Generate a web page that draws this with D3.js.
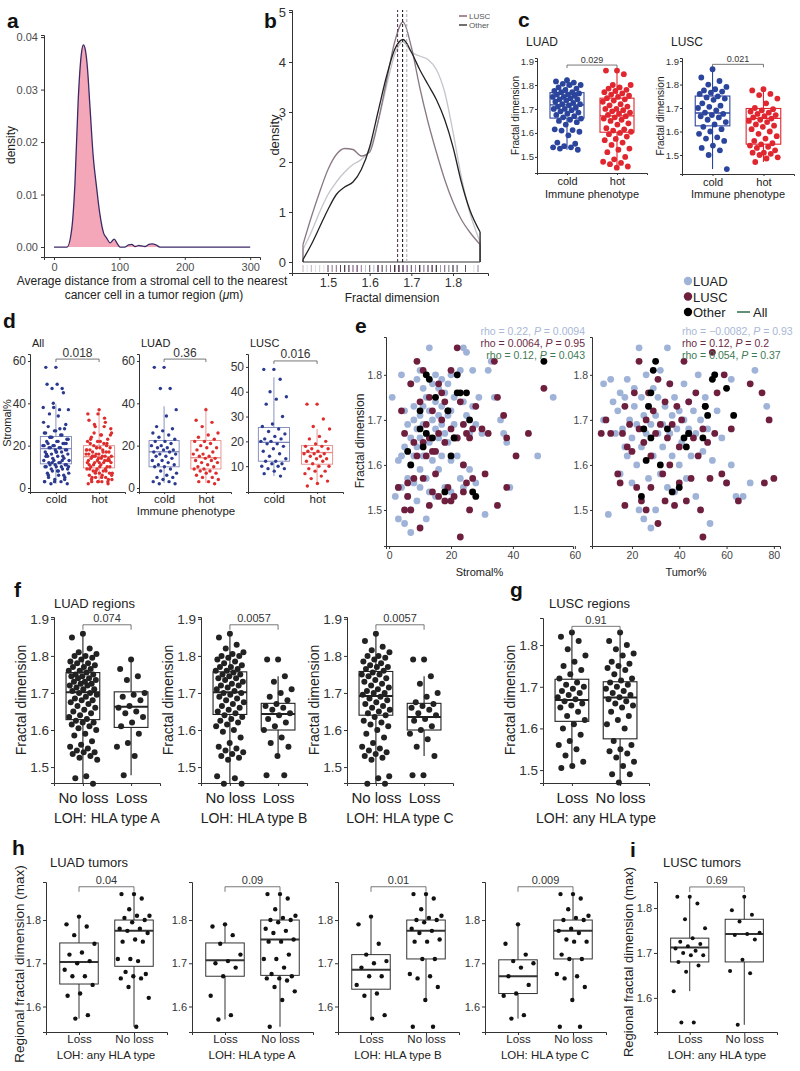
<!DOCTYPE html>
<html>
<head>
<meta charset="utf-8">
<script src="https://cdn.jsdelivr.net/npm/d3@7"></script>
<style>
  body { margin: 0; background: #fff; }
  text { font-family: "Liberation Sans", Arial, sans-serif; }
</style>
</head>
<body>
<svg id="fig" width="800" height="1071"></svg>
<script>
// ---------- data ----------

// a: density of stromal-to-cancer distance
const aDist = [0, 20, 27, 32, 37, 42, 45, 48, 51, 55, 60, 65, 70, 76, 80, 86, 92, 97, 101, 108, 114, 119, 124, 130, 134, 139, 145, 150, 156, 162, 170, 300];
const aDens = [0, 0, 0.0033, 0.012, 0.028, 0.037, 0.0385, 0.0375, 0.0343, 0.0267, 0.0172, 0.0115, 0.0064, 0.0026, 0.0018, 0.0008, 0.0015, 0.0006, 0, 0, 0.0004, 0.0005, 0.0001, 0.0003, 0.0002, 0.0001, 0.0005, 0.0006, 0.0004, 0, 0, 0];

// b: fractal dimension densities
const bGrid  = [1.44, 1.46, 1.48, 1.50, 1.52, 1.54, 1.56, 1.58, 1.60, 1.62, 1.64, 1.66, 1.68, 1.70, 1.72, 1.74, 1.76, 1.78, 1.80, 1.82, 1.84, 1.865];
const bLUAD  = [0.25, 0.6, 1.0, 1.35, 1.6, 1.8, 1.95, 2.05, 2.25, 2.8, 3.5, 4.15, 4.4, 4.2, 4.12, 4.05, 3.85, 3.4, 2.6, 1.7, 1.0, 0.4];
const bLUSC  = [0.35, 0.9, 1.4, 1.85, 2.15, 2.27, 2.25, 2.12, 2.2, 2.8, 3.6, 4.4, 4.8, 4.3, 3.5, 2.8, 2.2, 1.65, 1.2, 0.85, 0.6, 0.35];
const bOther = [0.05, 0.35, 0.7, 1.05, 1.35, 1.5, 1.6, 1.85, 2.3, 3.0, 3.7, 4.25, 4.45, 4.2, 3.85, 3.55, 3.25, 2.85, 2.3, 1.6, 1.05, 0.6];
const bMeans = [1.689, 1.667, 1.679]; // LUAD, LUSC, Other
const bLegend = ["LUSC", "Other"];

// c: fractal dimension by immune phenotype
const cGroups = ["cold", "hot"];
const cLuadCold = [1.82, 1.815, 1.81, 1.805, 1.80, 1.80, 1.79, 1.785, 1.78, 1.775, 1.77, 1.77, 1.765, 1.76, 1.76, 1.755, 1.75, 1.75, 1.745, 1.74, 1.74, 1.735, 1.73, 1.725, 1.72, 1.72, 1.715, 1.71, 1.705, 1.70, 1.70, 1.695, 1.69, 1.685, 1.68, 1.675, 1.67, 1.665, 1.66, 1.655, 1.65, 1.645, 1.635, 1.615, 1.612, 1.61, 1.605, 1.59, 1.56, 1.555, 1.545, 1.54, 1.54, 1.535, 1.53];
const cLuadHot = [1.86, 1.86, 1.845, 1.80, 1.80, 1.79, 1.785, 1.78, 1.775, 1.77, 1.765, 1.76, 1.755, 1.75, 1.745, 1.74, 1.735, 1.73, 1.72, 1.715, 1.71, 1.70, 1.70, 1.695, 1.69, 1.685, 1.68, 1.675, 1.67, 1.665, 1.66, 1.655, 1.65, 1.64, 1.635, 1.62, 1.615, 1.61, 1.605, 1.60, 1.595, 1.585, 1.575, 1.57, 1.56, 1.55, 1.535, 1.53, 1.52, 1.50, 1.49, 1.48, 1.475, 1.47, 1.46, 1.455];
const cLuscCold = [1.865, 1.83, 1.815, 1.80, 1.79, 1.78, 1.775, 1.77, 1.765, 1.76, 1.75, 1.745, 1.74, 1.735, 1.72, 1.71, 1.705, 1.70, 1.69, 1.68, 1.675, 1.67, 1.665, 1.66, 1.65, 1.64, 1.63, 1.62, 1.61, 1.60, 1.59, 1.575, 1.57, 1.56, 1.54, 1.53, 1.52, 1.50, 1.44];
const cLuscHot = [1.78, 1.775, 1.76, 1.755, 1.74, 1.72, 1.70, 1.695, 1.69, 1.685, 1.68, 1.675, 1.67, 1.665, 1.66, 1.655, 1.65, 1.645, 1.64, 1.63, 1.625, 1.62, 1.61, 1.60, 1.59, 1.58, 1.57, 1.56, 1.55, 1.545, 1.54, 1.535, 1.53, 1.52, 1.51, 1.51, 1.505, 1.50, 1.49, 1.485, 1.47];
// [lower whisker, Q1, median, Q3, upper whisker]
const cLuadStats = [[1.53, 1.662, 1.717, 1.768, 1.83], [1.455, 1.603, 1.671, 1.745, 1.862]];
const cLuscStats = [[1.44, 1.624, 1.679, 1.751, 1.862], [1.47, 1.546, 1.656, 1.698, 1.78]];
const cPvals = ["0.029", "0.021"];

// d: stromal% by immune phenotype
const dLuadCold = [57, 57, 47, 47, 37, 34, 29, 28, 27, 26, 25, 24, 23, 22, 22, 21, 20, 20, 19, 19, 18, 18, 17, 17, 16, 16, 15, 15, 14, 13, 13, 12, 11, 11, 10, 10, 9, 8, 7, 6, 5, 5, 4, 3, 3, 2, 2];
const dLuadHot = [37, 32, 31, 29, 26, 25, 24, 23, 22, 22, 21, 20, 19, 19, 18, 17, 16, 16, 15, 15, 14, 14, 13, 13, 12, 12, 11, 10, 10, 9, 9, 8, 8, 7, 7, 6, 5, 5, 4, 3, 3, 2];
const dLuscCold = [49, 49, 45, 40, 38, 37, 35, 30, 27, 26, 25, 24, 23, 22, 21, 21, 20, 20, 19, 19, 18, 17, 16, 15, 14, 13, 12, 12, 11, 11, 10, 10, 9, 9, 8, 7, 6];
const dLuscHot = [35, 35, 29, 26, 25, 22, 21, 20, 19, 18, 18, 17, 17, 16, 16, 15, 15, 15, 14, 14, 13, 13, 12, 12, 11, 10, 10, 9, 8, 8, 7, 6, 5, 4, 3, 2];
const dOtherCold = [38, 31, 28, 24, 21, 17, 15, 13, 12, 10, 8, 6, 4, 3, 3];
const dOtherHot = [33, 30, 28, 25, 23, 21, 19, 18, 17, 15, 13, 12, 11, 9, 7, 6, 5, 4, 3, 3];
const dAllStats  = [[2, 11.4, 18.6, 24.3, 39.5], [2.5, 9.5, 14.8, 20, 37]];
const dLuadStats = [[2.4, 10, 17.1, 22.4, 38.6], [2.4, 9, 14.3, 22.4, 38]];
const dLuscStats = [[6, 12, 19.6, 25.6, 45.8], [2.8, 10.8, 15.5, 18.3, 25]];
const dPvals = ["0.018", "0.36", "0.016"];

// e: fractal dimension vs stromal% / tumor%  ([percent, fractal dimension])
const eStromalLUAD = [[1,1.75],[2,1.53],[3,1.55],[3,1.61],[3,1.48],[4,1.80],[4,1.62],[4,1.55],[5,1.72],[5,1.47],[5,1.64],[6,1.69],[6,1.57],[6,1.53],[7,1.78],[7,1.66],[7,1.60],[7,1.50],[7,1.45],[8,1.73],[8,1.70],[8,1.62],[8,1.56],[9,1.79],[9,1.68],[9,1.64],[9,1.52],[10,1.81],[10,1.71],[10,1.66],[10,1.59],[10,1.55],[11,1.77],[11,1.73],[11,1.69],[11,1.62],[12,1.80],[12,1.75],[12,1.67],[12,1.57],[12,1.48],[13,1.86],[13,1.72],[13,1.65],[13,1.54],[14,1.78],[14,1.70],[14,1.61],[15,1.80],[15,1.74],[15,1.68],[15,1.53],[16,1.77],[16,1.71],[16,1.66],[16,1.59],[17,1.79],[17,1.73],[17,1.69],[17,1.62],[18,1.76],[18,1.67],[18,1.55],[19,1.78],[19,1.71],[19,1.65],[20,1.80],[20,1.72],[20,1.61],[20,1.54],[21,1.69],[21,1.75],[22,1.80],[22,1.66],[22,1.62],[23,1.81],[23,1.57],[24,1.86],[24,1.74],[24,1.60],[24,1.55],[25,1.85],[25,1.71],[26,1.67],[26,1.59],[27,1.81],[27,1.73],[28,1.69],[28,1.56],[29,1.75],[30,1.67],[31,1.49],[32,1.81],[33,1.83],[34,1.75],[36,1.70],[37,1.67],[38,1.65],[39,1.55],[48,1.62],[53,1.75]];
const eStromalLUSC = [[3,1.55],[4,1.72],[5,1.67],[5,1.50],[6,1.56],[6,1.53],[7,1.78],[7,1.50],[8,1.65],[8,1.57],[9,1.83],[9,1.62],[10,1.74],[10,1.46],[11,1.81],[11,1.65],[11,1.57],[12,1.69],[12,1.62],[13,1.75],[13,1.66],[13,1.51],[14,1.72],[14,1.63],[14,1.54],[15,1.63],[15,1.58],[16,1.78],[16,1.67],[16,1.53],[17,1.76],[17,1.70],[18,1.74],[18,1.65],[18,1.52],[19,1.72],[19,1.55],[20,1.81],[20,1.68],[20,1.52],[21,1.66],[21,1.53],[22,1.86],[22,1.66],[23,1.74],[23,1.44],[24,1.69],[24,1.60],[24,1.54],[25,1.67],[25,1.56],[26,1.66],[26,1.50],[27,1.68],[27,1.57],[28,1.73],[30,1.68],[31,1.58],[32,1.67],[34,1.83],[35,1.75],[35,1.51],[37,1.71],[38,1.66],[38,1.55],[41,1.62],[45,1.67],[50,1.77]];
const eStromalOther = [[6,1.63],[7,1.60],[10,1.72],[10,1.68],[11,1.64],[12,1.67],[12,1.80],[13,1.79],[14,1.66],[15,1.75],[18,1.54],[19,1.72],[20,1.62],[21,1.66],[22,1.80],[22,1.76],[23,1.76],[25,1.76],[26,1.70],[27,1.54],[28,1.53],[50,1.83]];
const eTumorLUAD = [[8,1.78],[8,1.70],[10,1.49],[11,1.79],[12,1.74],[13,1.67],[14,1.72],[15,1.58],[15,1.76],[16,1.68],[17,1.64],[17,1.75],[18,1.62],[18,1.79],[19,1.70],[20,1.56],[20,1.66],[21,1.77],[21,1.73],[22,1.60],[22,1.69],[23,1.50],[23,1.86],[24,1.75],[24,1.64],[25,1.71],[25,1.48],[26,1.67],[26,1.80],[27,1.57],[27,1.73],[28,1.46],[28,1.69],[29,1.77],[29,1.62],[30,1.71],[30,1.50],[31,1.67],[31,1.75],[32,1.81],[32,1.58],[33,1.69],[33,1.64],[34,1.73],[35,1.86],[35,1.55],[36,1.67],[36,1.78],[37,1.62],[37,1.71],[38,1.75],[38,1.54],[39,1.68],[40,1.72],[40,1.60],[41,1.65],[42,1.78],[42,1.70],[43,1.57],[44,1.74],[44,1.68],[45,1.62],[46,1.72],[47,1.67],[47,1.53],[48,1.80],[49,1.70],[50,1.63],[51,1.75],[52,1.68],[53,1.47],[54,1.61],[55,1.80],[56,1.72],[58,1.66],[60,1.56],[62,1.79],[62,1.60],[64,1.53],[67,1.53],[70,1.56],[72,1.81],[77,1.73]];
const eTumorLUSC = [[7,1.67],[9,1.70],[11,1.67],[14,1.58],[15,1.56],[16,1.67],[17,1.73],[17,1.51],[18,1.64],[19,1.69],[20,1.63],[21,1.76],[22,1.55],[23,1.83],[23,1.68],[24,1.52],[25,1.65],[26,1.70],[26,1.50],[27,1.76],[28,1.62],[28,1.55],[29,1.72],[30,1.67],[31,1.47],[31,1.79],[32,1.69],[33,1.58],[34,1.74],[34,1.52],[35,1.66],[36,1.60],[36,1.78],[37,1.69],[38,1.51],[39,1.73],[40,1.64],[40,1.56],[41,1.70],[42,1.83],[43,1.52],[44,1.67],[44,1.74],[45,1.57],[46,1.66],[47,1.76],[48,1.62],[49,1.50],[50,1.44],[50,1.68],[51,1.73],[52,1.65],[53,1.57],[54,1.85],[55,1.67],[56,1.76],[58,1.58],[59,1.80],[60,1.56],[62,1.68],[65,1.52],[70,1.78],[75,1.76],[76,1.56],[80,1.57],[78,1.70]];
const eTumorOther = [[24,1.53],[25,1.68],[26,1.61],[27,1.73],[28,1.76],[28,1.66],[29,1.81],[30,1.83],[32,1.60],[35,1.68],[37,1.54],[40,1.55],[42,1.66],[43,1.64],[44,1.67],[50,1.66],[51,1.73],[52,1.71],[54,1.79],[55,1.80],[60,1.77],[63,1.71]];
const eRhoStromal = [["rho = 0.22, ", "P", " = 0.0094"], ["rho = 0.0064, ", "P", " = 0.95"], ["rho = 0.12, ", "P", " = 0.043"]];
const eRhoTumor = [["rho = \u22120.0082, ", "P", " = 0.93"], ["rho = 0.12, ", "P", " = 0.2"], ["rho = 0.054, ", "P", " = 0.37"]];
const eLegend = ["LUAD", "LUSC", "Other"];

// f, g: regions, fractal dimension by HLA LOH
const lossGroups = ["No loss", "Loss"];
const fNoLossA = [1.86, 1.85, 1.82, 1.81, 1.805, 1.80, 1.80, 1.795, 1.79, 1.785, 1.78, 1.78, 1.775, 1.77, 1.77, 1.765, 1.76, 1.76, 1.755, 1.75, 1.75, 1.745, 1.745, 1.74, 1.74, 1.735, 1.73, 1.73, 1.725, 1.725, 1.72, 1.72, 1.715, 1.71, 1.71, 1.705, 1.70, 1.70, 1.695, 1.69, 1.685, 1.68, 1.68, 1.675, 1.67, 1.665, 1.66, 1.655, 1.65, 1.645, 1.64, 1.635, 1.63, 1.625, 1.62, 1.62, 1.615, 1.61, 1.605, 1.60, 1.59, 1.585, 1.57, 1.56, 1.555, 1.55, 1.545, 1.54, 1.54, 1.535, 1.53, 1.525, 1.52, 1.475, 1.47, 1.455];
const fLossA = [1.79, 1.765, 1.745, 1.735, 1.70, 1.695, 1.69, 1.68, 1.665, 1.66, 1.65, 1.645, 1.635, 1.62, 1.61, 1.59, 1.565, 1.555, 1.53, 1.478];
const fNoLossB = [1.86, 1.85, 1.83, 1.82, 1.81, 1.805, 1.80, 1.80, 1.795, 1.79, 1.785, 1.78, 1.775, 1.77, 1.77, 1.765, 1.76, 1.76, 1.755, 1.75, 1.75, 1.745, 1.74, 1.74, 1.735, 1.73, 1.725, 1.72, 1.72, 1.715, 1.71, 1.705, 1.70, 1.70, 1.695, 1.69, 1.685, 1.68, 1.675, 1.67, 1.665, 1.66, 1.655, 1.65, 1.645, 1.64, 1.635, 1.63, 1.625, 1.62, 1.615, 1.61, 1.60, 1.595, 1.58, 1.565, 1.555, 1.55, 1.545, 1.54, 1.535, 1.53, 1.525, 1.52, 1.475, 1.47, 1.455, 1.455];
const fLossB = [1.79, 1.79, 1.745, 1.73, 1.71, 1.70, 1.69, 1.68, 1.67, 1.665, 1.66, 1.655, 1.645, 1.64, 1.63, 1.62, 1.61, 1.60, 1.58, 1.565, 1.555, 1.53, 1.478, 1.478];
const fNoLossC = [1.86, 1.84, 1.825, 1.815, 1.81, 1.80, 1.80, 1.795, 1.79, 1.785, 1.78, 1.775, 1.77, 1.77, 1.765, 1.76, 1.755, 1.75, 1.75, 1.745, 1.74, 1.735, 1.73, 1.725, 1.72, 1.715, 1.71, 1.705, 1.70, 1.70, 1.695, 1.69, 1.685, 1.68, 1.675, 1.67, 1.665, 1.66, 1.655, 1.65, 1.645, 1.64, 1.635, 1.625, 1.62, 1.615, 1.61, 1.60, 1.59, 1.58, 1.565, 1.555, 1.55, 1.545, 1.54, 1.535, 1.53, 1.525, 1.52, 1.475, 1.47, 1.455, 1.455];
const fLossC = [1.79, 1.79, 1.745, 1.725, 1.70, 1.69, 1.675, 1.67, 1.665, 1.66, 1.655, 1.645, 1.64, 1.63, 1.625, 1.61, 1.60, 1.59, 1.575, 1.555, 1.53, 1.478, 1.478];
const fStats = [
  [[1.455, 1.628, 1.702, 1.755, 1.86], [1.478, 1.607, 1.663, 1.703, 1.79]],
  [[1.455, 1.642, 1.702, 1.757, 1.86], [1.53, 1.600, 1.643, 1.672, 1.745]],
  [[1.455, 1.640, 1.692, 1.758, 1.86], [1.53, 1.600, 1.635, 1.672, 1.745]]
];
const fPvals = ["0.074", "0.0057", "0.0057"];
const fTitles = ["LOH: HLA type A", "LOH: HLA type B", "LOH: HLA type C"];

const anyGroups = ["Loss", "No loss"];
const gLoss = [1.83, 1.82, 1.81, 1.79, 1.775, 1.76, 1.75, 1.74, 1.73, 1.72, 1.71, 1.705, 1.70, 1.695, 1.69, 1.685, 1.68, 1.675, 1.67, 1.665, 1.66, 1.655, 1.65, 1.64, 1.63, 1.62, 1.61, 1.60, 1.585, 1.57, 1.56, 1.55, 1.535, 1.52, 1.51, 1.505];
const gNoLoss = [1.83, 1.81, 1.80, 1.79, 1.78, 1.775, 1.76, 1.755, 1.75, 1.745, 1.74, 1.73, 1.72, 1.715, 1.71, 1.705, 1.70, 1.695, 1.69, 1.685, 1.68, 1.675, 1.67, 1.665, 1.66, 1.655, 1.65, 1.64, 1.63, 1.62, 1.61, 1.60, 1.57, 1.56, 1.55, 1.545, 1.54, 1.53, 1.52, 1.51, 1.49, 1.49, 1.47];
const gStats = [[1.505, 1.617, 1.668, 1.718, 1.83], [1.467, 1.575, 1.674, 1.712, 1.83]];

// h, i: tumors, max regional fractal dimension by HLA LOH
const hLoss = [
  [1.808, 1.79, 1.785, 1.765, 1.745, 1.725, 1.72, 1.705, 1.70, 1.685, 1.67, 1.67, 1.65, 1.63, 1.625, 1.58, 1.572],
  [1.79, 1.785, 1.765, 1.745, 1.72, 1.705, 1.70, 1.69, 1.67, 1.625, 1.58, 1.57],
  [1.808, 1.79, 1.745, 1.72, 1.705, 1.70, 1.69, 1.67, 1.67, 1.65, 1.63, 1.625, 1.58, 1.572],
  [1.79, 1.745, 1.72, 1.705, 1.70, 1.69, 1.67, 1.65, 1.63, 1.625, 1.58, 1.572]
];
const hNoLoss = [
  [1.86, 1.86, 1.85, 1.825, 1.81, 1.81, 1.805, 1.80, 1.795, 1.78, 1.78, 1.775, 1.77, 1.755, 1.75, 1.75, 1.71, 1.71, 1.705, 1.68, 1.675, 1.67, 1.665, 1.665, 1.645, 1.62, 1.553],
  [1.86, 1.86, 1.85, 1.825, 1.81, 1.805, 1.80, 1.80, 1.795, 1.78, 1.775, 1.77, 1.755, 1.75, 1.75, 1.72, 1.71, 1.71, 1.69, 1.675, 1.67, 1.665, 1.665, 1.66, 1.645, 1.635, 1.615, 1.553],
  [1.86, 1.86, 1.85, 1.825, 1.81, 1.805, 1.80, 1.80, 1.795, 1.78, 1.775, 1.77, 1.755, 1.75, 1.75, 1.71, 1.71, 1.675, 1.67, 1.665, 1.645, 1.615, 1.553, 1.553],
  [1.86, 1.86, 1.85, 1.825, 1.81, 1.805, 1.80, 1.80, 1.78, 1.775, 1.77, 1.755, 1.75, 1.75, 1.72, 1.71, 1.71, 1.675, 1.67, 1.665, 1.645, 1.615, 1.553, 1.553]
];
const hStats = [
  [[1.572, 1.652, 1.703, 1.747, 1.808], [1.553, 1.693, 1.775, 1.80, 1.86]],
  [[1.57, 1.67, 1.707, 1.747, 1.79], [1.553, 1.672, 1.755, 1.80, 1.86]],
  [[1.572, 1.64, 1.685, 1.72, 1.808], [1.615, 1.71, 1.775, 1.80, 1.86]],
  [[1.572, 1.63, 1.67, 1.708, 1.79], [1.615, 1.71, 1.775, 1.80, 1.86]]
];
const hPvals = ["0.04", "0.09", "0.01", "0.009"];
const hTitles = ["LOH: any HLA type", "LOH: HLA type A", "LOH: HLA type B", "LOH: HLA type C"];
const iLoss = [1.825, 1.825, 1.81, 1.775, 1.755, 1.733, 1.725, 1.72, 1.715, 1.71, 1.705, 1.70, 1.695, 1.695, 1.68, 1.672, 1.658, 1.615, 1.545, 1.545];
const iNoLoss = [1.825, 1.795, 1.785, 1.77, 1.745, 1.742, 1.74, 1.73, 1.685, 1.66, 1.655, 1.54];
const iStats = [[1.615, 1.68, 1.712, 1.733, 1.825], [1.54, 1.68, 1.742, 1.775, 1.825]];

// ---------- drawing helpers ----------
const FONT = '"Liberation Sans", Arial, sans-serif';
const svg = d3.select("#fig");
const jit = i => ((i * 0.618034 + 0.5) % 1) - 0.5;

function label(txt, x, y, o = {}) {
  const t = svg.append("text").attr("x", x).attr("y", y).text(txt)
    .attr("font-size", o.size || 12).attr("fill", o.color || "#222")
    .attr("text-anchor", o.anchor || "start");
  if (o.bold) t.attr("font-weight", "bold");
  if (o.rotate) t.attr("transform", `rotate(-90,${x},${y})`);
  return t;
}

function styleAxis(g, size, color) {
  g.attr("font-family", FONT);
  g.select(".domain").attr("stroke", "#333").attr("stroke-width", 1);
  g.selectAll(".tick line").attr("stroke", "#333");
  g.selectAll(".tick text").attr("font-size", size).attr("fill", color);
}

function boxPanel(c) {
  const x = d3.scalePoint().domain(c.groups).range([c.x0, c.x1]).padding(0.6);
  const y = d3.scaleLinear().domain(c.yExt).range(c.yPx);
  const bw = x.step() * (c.bw || 0.7);
  const ya = svg.append("g").attr("transform", `translate(${c.x0},0)`)
    .call(d3.axisLeft(y).tickValues(c.ticks).tickFormat(c.fmt).tickSizeOuter(0).tickSize(c.tk || 3).tickPadding(c.yPad || 2));
  styleAxis(ya, c.tickSize, c.tickColor || "#333");
  const xa = svg.append("g").attr("transform", `translate(0,${c.yPx[0]})`)
    .call(d3.axisBottom(x).tickSizeOuter(0).tickSize(c.tk || 3).tickPadding(c.xPad === undefined ? 3 : c.xPad));
  styleAxis(xa, c.xSize, "#222");

  c.groups.forEach((name, k) => {
    const cx = x(name), s = c.stats[k], col = c.colors[k];
    const g = svg.append("g");
    g.append("line").attr("x1", cx).attr("x2", cx).attr("y1", y(s[0])).attr("y2", y(s[4]))
      .attr("stroke", col).attr("stroke-width", c.lw || 1);
    g.append("rect").attr("x", cx - bw / 2).attr("width", bw)
      .attr("y", y(s[3])).attr("height", y(s[1]) - y(s[3]))
      .attr("fill", "#fff").attr("stroke", col).attr("stroke-width", c.lw || 1);
    g.append("line").attr("x1", cx - bw / 2).attr("x2", cx + bw / 2)
      .attr("y1", y(s[2])).attr("y2", y(s[2]))
      .attr("stroke", col).attr("stroke-width", c.mw || 2);
    g.selectAll("circle").data(c.values[k]).join("circle")
      .attr("cx", (d, i) => cx + jit(i) * bw * 0.85)
      .attr("cy", d => y(d))
      .attr("r", c.r).attr("fill", c.dotColors ? c.dotColors[k] : col);
  });

  // significance bracket
  const xa0 = x(c.groups[0]), xa1 = x(c.groups[1]), yb = y(c.bracket);
  svg.append("path")
    .attr("d", `M${xa0},${yb + c.tip}V${yb}H${xa1}V${yb + c.tip}`)
    .attr("fill", "none").attr("stroke", "#555").attr("stroke-width", 0.8);
  label(c.pval, (xa0 + xa1) / 2, yb - 2.5, { size: c.pSize, anchor: "middle", color: "#333" });
  return { x, y };
}

// ---------- panel a ----------
{
  const x = d3.scaleLinear().domain([-15.3, 315]).range([44, 260]);
  const y = d3.scaleLinear().domain([-0.0019, 0.0404]).range([257, 35]);
  const pts = aDist.map((d, i) => [d, aDens[i]]);
  svg.append("path").datum(pts)
    .attr("d", d3.area().x(d => x(d[0])).y0(y(0)).y1(d => y(d[1])).curve(d3.curveMonotoneX))
    .attr("fill", "#f4a7b9");
  svg.append("path").datum(pts)
    .attr("d", d3.line().x(d => x(d[0])).y(d => y(d[1])).curve(d3.curveMonotoneX))
    .attr("fill", "none").attr("stroke", "#3b2a66").attr("stroke-width", 1.3);
  const ya = svg.append("g").attr("transform", "translate(44,0)")
    .call(d3.axisLeft(y).tickValues([0, 0.01, 0.02, 0.03, 0.04]).tickFormat(d3.format(".2f")).tickSizeOuter(0).tickSize(3));
  styleAxis(ya, 11, "#4d4d4d");
  const xa = svg.append("g").attr("transform", "translate(0,257)")
    .call(d3.axisBottom(x).tickValues([0, 100, 200, 300]).tickSizeOuter(0).tickSize(3));
  styleAxis(xa, 11, "#4d4d4d");
  label("a", 7, 28, { size: 21, bold: true, color: "#111" });
  label("density", 15, 145, { size: 12, rotate: true, anchor: "middle" });
  label("Average distance from a stromal cell to the nearest", 152, 285, { size: 12, anchor: "middle" });
  const t = label("cancer cell in a tumor region (", 154, 299, { size: 12, anchor: "middle" });
  t.append("tspan").attr("font-style", "italic").text("\u03bc");
  t.append("tspan").text("m)");
}

// ---------- panel b ----------
{
  const x = d3.scaleLinear().domain([1.4136, 1.884]).range([292, 488]);
  const y = d3.scaleLinear().domain([-0.22, 5.04]).range([273, 10]);
  const rug = [
    [eStromalLUAD, "#b9b9cc"], [eStromalLUSC, "#6d4666"], [eStromalOther, "#222"]
  ];
  rug.forEach(([set, col]) => {
    svg.append("g").selectAll("line").data(set).join("line")
      .attr("x1", d => x(d[1])).attr("x2", d => x(d[1]))
      .attr("y1", 265).attr("y2", 272)
      .attr("stroke", col).attr("stroke-width", 0.8).attr("opacity", 0.55);
  });
  svg.append("line").attr("x1", x(bGrid[0])).attr("x2", x(bGrid[bGrid.length - 1]))
    .attr("y1", y(0)).attr("y2", y(0)).attr("stroke", "#333");
  const curves = [[bLUAD, "#c4c4cc"], [bLUSC, "#8a7884"], [bOther, "#222"]];
  const line = d3.line().x(d => x(d[0])).y(d => y(d[1])).curve(d3.curveMonotoneX);
  curves.forEach(([vals, col]) => {
    const pts = bGrid.map((g, i) => [g, vals[i]]);
    svg.append("path").datum(pts).attr("d", line)
      .attr("fill", "none").attr("stroke", col).attr("stroke-width", 1.3);
    [pts[0], pts[pts.length - 1]].forEach(p => {
      svg.append("line").attr("x1", x(p[0])).attr("x2", x(p[0]))
        .attr("y1", y(0)).attr("y2", y(p[1])).attr("stroke", col).attr("stroke-width", 1.3);
    });
  });
  const meanCols = ["#b0b0b8", "#5c3a55", "#222"];
  bMeans.forEach((m, i) => {
    svg.append("line").attr("x1", x(m)).attr("x2", x(m)).attr("y1", y(0)).attr("y2", y(5.04))
      .attr("stroke", meanCols[i]).attr("stroke-dasharray", "3,2").attr("stroke-width", 1.1);
  });
  const ya = svg.append("g").attr("transform", "translate(292,0)")
    .call(d3.axisLeft(y).tickValues([0, 1, 2, 3, 4, 5]).tickFormat(d3.format("d")).tickSizeOuter(0).tickSize(3));
  styleAxis(ya, 13, "#333");
  const xa = svg.append("g").attr("transform", "translate(0,273)")
    .call(d3.axisBottom(x).tickValues([1.5, 1.6, 1.7, 1.8]).tickFormat(d3.format(".1f")).tickSizeOuter(0).tickSize(3).tickPadding(2));
  styleAxis(xa, 12.5, "#333");
  label("b", 264, 28, { size: 21, bold: true, color: "#111" });
  label("density", 279, 135, { size: 13, rotate: true, anchor: "middle" });
  label("Fractal dimension", 392, 302, { size: 12, anchor: "middle" });
  const legCols = ["#7b4b66", "#222"];
  bLegend.forEach((t, i) => {
    svg.append("line").attr("x1", 459).attr("x2", 467).attr("y1", 16 + i * 9).attr("y2", 16 + i * 9)
      .attr("stroke", legCols[i]).attr("stroke-width", 1.3);
    label(t, 469, 19 + i * 9, { size: 8, color: "#555" });
  });
}

// ---------- panel c ----------
const BLUE = "#2c459c", RED = "#e0262f";
label("c", 518, 27, { size: 21, bold: true, color: "#111" });
[
  { name: "LUAD", x0: 537, x1: 647, yPx: [173, 58], yExt: [1.433, 1.9125], vals: [cLuadCold, cLuadHot], stats: cLuadStats, p: cPvals[0], br: 1.883 },
  { name: "LUSC", x0: 682, x1: 794, yPx: [174, 58], yExt: [1.419, 1.913], vals: [cLuscCold, cLuscHot], stats: cLuscStats, p: cPvals[1], br: 1.886 }
].forEach(s => {
  boxPanel({
    groups: cGroups, x0: s.x0, x1: s.x1, yPx: s.yPx, yExt: s.yExt,
    ticks: [1.5, 1.6, 1.7, 1.8, 1.9], fmt: d3.format(".1f"), tickSize: 9.5, xSize: 11, tk: 2, yPad: 1, xPad: 2,
    stats: s.stats, values: s.vals, colors: [BLUE, RED], r: 2.9, bw: 0.68, lw: 1.1, mw: 1.4,
    bracket: s.br, tip: 3, pval: s.p, pSize: 9
  });
  label(s.name, s.x0 - 11, 46, { size: 12 });
  label("Fractal dimension", s.x0 - 18, (s.yPx[0] + s.yPx[1]) / 2, { size: 10, rotate: true, anchor: "middle" });
  label("Immune phenotype", (s.x0 + s.x1) / 2, 198, { size: 11, anchor: "middle" });
});

// ---------- panel d ----------
label("d", 3, 328, { size: 21, bold: true, color: "#111" });
[
  { name: "All", x0: 30, x1: 125, yExt: [-1.9, 63.3], ticks: [0, 20, 40, 60],
    vals: [dLuadCold.concat(dLuscCold, dOtherCold), dLuadHot.concat(dLuscHot, dOtherHot)], stats: dAllStats, p: dPvals[0], br: 60.9 },
  { name: "LUAD", x0: 139, x1: 231, yExt: [-1.9, 63.3], ticks: [0, 20, 40, 60],
    vals: [dLuadCold, dLuadHot], stats: dLuadStats, p: dPvals[1], br: 60.9 },
  { name: "LUSC", x0: 248, x1: 343, yExt: [-0.4, 55.2], ticks: [10, 20, 30, 40, 50],
    vals: [dLuscCold, dLuscHot], stats: dLuscStats, p: dPvals[2], br: 52.4 }
].forEach(s => {
  boxPanel({
    groups: cGroups, x0: s.x0, x1: s.x1, yPx: [492, 354], yExt: s.yExt,
    ticks: s.ticks, fmt: d3.format("d"), tickSize: 12, tickColor: "#333", xSize: 11.5, tk: 2, xPad: 0.5,
    stats: s.stats, values: s.vals, colors: ["#7d86b8", "#e58a8a"], dotColors: ["#2b3a8f", "#de2d2d"],
    r: 1.7, bw: 0.72, lw: 0.9, mw: 1.3, bracket: s.br, tip: 3, pval: s.p, pSize: 12
  });
  label(s.name, s.x0 + 2, 347, { size: 11 });
});
label("Stromal%", 11, 423, { size: 11, rotate: true, anchor: "middle" });
label("Immune phenotype", 186, 515, { size: 11.5, anchor: "middle" });

// ---------- panel e ----------
label("e", 355, 333, { size: 21, bold: true, color: "#111" });
const eCols = ["#9fb3d8", "#6e1f3e", "#000"];
const rhoCols = ["#a9b8d6", "#6b2a45", "#3e7a55"];
[
  { x0: 386, x1: 573, xExt: [-1, 59.4], ticks: [0, 20, 40, 60], sets: [eStromalLUAD, eStromalLUSC, eStromalOther], title: "Stromal%", rho: eRhoStromal, rx: 585, anchor: "end" },
  { x0: 592, x1: 780, xExt: [3.1, 82.6], ticks: [20, 40, 60, 80], sets: [eTumorLUAD, eTumorLUSC, eTumorOther], title: "Tumor%", rho: eRhoTumor, rx: 682, anchor: "start" }
].forEach(s => {
  const x = d3.scaleLinear().domain(s.xExt).range([s.x0, s.x1]);
  const y = d3.scaleLinear().domain([1.42, 1.884]).range([546, 337]);
  s.sets.forEach((set, k) => {
    svg.append("g").selectAll("circle").data(set).join("circle")
      .attr("cx", d => x(d[0])).attr("cy", d => y(d[1])).attr("r", 3.4).attr("fill", eCols[k]);
  });
  const ya = svg.append("g").attr("transform", `translate(${s.x0},0)`)
    .call(d3.axisLeft(y).tickValues([1.5, 1.6, 1.7, 1.8]).tickFormat(d3.format(".1f")).tickSizeOuter(0).tickSize(2).tickPadding(2));
  styleAxis(ya, 10.5, "#444");
  const xa = svg.append("g").attr("transform", "translate(0,546)")
    .call(d3.axisBottom(x).tickValues(s.ticks).tickSizeOuter(0).tickSize(3));
  styleAxis(xa, 10.5, "#444");
  label(s.title, (s.x0 + s.x1) / 2, 576, { size: 11, anchor: "middle" });
  s.rho.forEach((r, i) => {
    const t = label(r[0], s.rx, 335 + i * 12, { size: 10.5, anchor: s.anchor, color: rhoCols[i] });
    t.append("tspan").attr("font-style", "italic").text(r[1]);
    t.append("tspan").text(r[2]);
  });
});
label("Fractal dimension", 364, 441, { size: 12, rotate: true, anchor: "middle" });
eLegend.forEach((t, i) => {
  svg.append("circle").attr("cx", 688).attr("cy", 281 + i * 15.5).attr("r", 4.2).attr("fill", eCols[i]);
  label(t, 693, 286 + i * 15.5, { size: 13 });
});
svg.append("line").attr("x1", 737).attr("x2", 750).attr("y1", 312).attr("y2", 312)
  .attr("stroke", "#2f6b4b").attr("stroke-width", 1.5);
label("All", 753, 317, { size: 13 });

// ---------- panel f ----------
label("f", 14, 597, { size: 21, bold: true, color: "#111" });
label("LUAD regions", 54, 608, { size: 13 });
const fVals = [[fNoLossA, fLossA], [fNoLossB, fLossB], [fNoLossC, fLossC]];
[54, 201, 347].forEach((x0, k) => {
  boxPanel({
    groups: lossGroups, x0: x0, x1: x0 + 106, yPx: [783, 617], yExt: [1.457, 1.905],
    ticks: [1.5, 1.6, 1.7, 1.8, 1.9], fmt: d3.format(".1f"), tickSize: 13.5, xSize: 15, xPad: 6,
    stats: fStats[k], values: fVals[k], colors: ["#222", "#222"], r: 3, bw: 0.7, lw: 1.1, mw: 2,
    bracket: 1.884, tip: 5, pval: fPvals[k], pSize: 11
  });
  label("Fractal dimension", x0 - 28, 700, { size: 14, rotate: true, anchor: "middle" });
  label(fTitles[k], x0 + 53, 823, { size: 14, anchor: "middle" });
});

// ---------- panel g ----------
label("g", 510, 597, { size: 21, bold: true, color: "#111" });
label("LUSC regions", 549, 608, { size: 13 });
boxPanel({
  groups: anyGroups, x0: 543, x1: 649, yPx: [783, 618], yExt: [1.469, 1.865],
  ticks: [1.5, 1.6, 1.7, 1.8], fmt: d3.format(".1f"), tickSize: 13.5, xSize: 15, xPad: 6,
  stats: gStats, values: [gLoss, gNoLoss], colors: ["#222", "#222"], r: 3, bw: 0.7, lw: 1.1, mw: 2,
  bracket: 1.845, tip: 5, pval: "0.91", pSize: 11
});
label("Fractal dimension", 515, 700, { size: 14, rotate: true, anchor: "middle" });
label("LOH: any HLA type", 596, 823, { size: 14, anchor: "middle" });

// ---------- panel h ----------
label("h", 12, 855, { size: 21, bold: true, color: "#111" });
label("LUAD tumors", 50, 867, { size: 13 });
[46, 192, 338, 485].forEach((x0, k) => {
  boxPanel({
    groups: anyGroups, x0: x0, x1: x0 + 121, yPx: [1032, 882], yExt: [1.541, 1.888],
    ticks: [1.6, 1.7, 1.8], fmt: d3.format(".1f"), tickSize: 11, xSize: 11.5, xPad: 0, yPad: 2,
    stats: hStats[k], values: [hLoss[k], hNoLoss[k]], colors: ["#333", "#333"], dotColors: ["#111", "#111"],
    r: 2.2, bw: 0.7, lw: 1, mw: 2, bracket: 1.877, tip: 5, pval: hPvals[k], pSize: 11
  });
  label(hTitles[k], x0 + 60, 1059, { size: 11.5, anchor: "middle" });
});
label("Regional fractal dimension (max)", 24, 964, { size: 13.5, rotate: true, anchor: "middle" });

// ---------- panel i ----------
label("i", 630, 857, { size: 21, bold: true, color: "#111" });
label("LUSC tumors", 663, 867, { size: 13 });
boxPanel({
  groups: anyGroups, x0: 657, x1: 777, yPx: [1032, 882], yExt: [1.524, 1.858],
  ticks: [1.6, 1.7, 1.8], fmt: d3.format(".1f"), tickSize: 11, xSize: 11.5, xPad: 0,
  stats: iStats, values: [iLoss, iNoLoss], colors: ["#333", "#333"], dotColors: ["#111", "#111"],
  r: 2, bw: 0.7, lw: 1, mw: 2, bracket: 1.847, tip: 5, pval: "0.69", pSize: 11
});
label("Regional fractal dimension (max)", 633, 962, { size: 13, rotate: true, anchor: "middle" });
label("LOH: any HLA type", 717, 1059, { size: 11.5, anchor: "middle" });
</script>
</body>
</html>
